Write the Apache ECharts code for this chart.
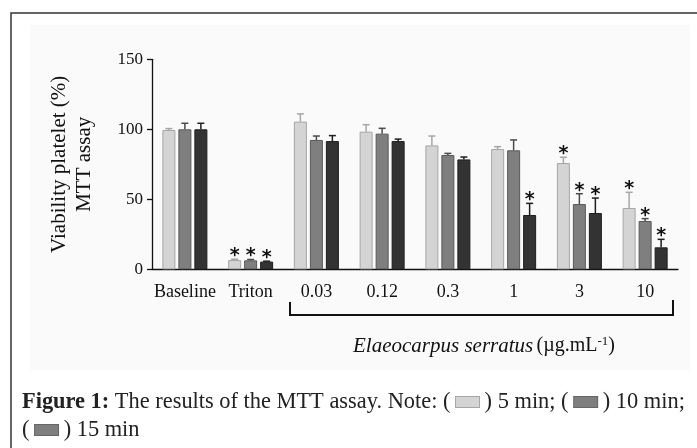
<!DOCTYPE html>
<html lang="en">
<head>
    <meta charset="UTF-8">
    <title>MTT assay</title>
    <script src="https://cdn.jsdelivr.net/npm/echarts@6/dist/echarts.min.js"></script>
    <style>
        html, body { margin: 0; padding: 0; background: #fff; }
    </style>
</head>
<body>
    <div id="main" style="width: 697px;height:448px;"></div>
    <script>
// categories and values
var categories = ['Baseline', 'Triton', '0.03', '0.12', '0.3', '1', '3', '10'];
var yTicks = [0, 50, 100, 150];

var min5 = [99.5, 6.6, 105.5, 98.3, 88.5, 85.9, 75.9, 43.8];
var min5Err = [1.0, 0.6, 5.5, 5.0, 6.7, 1.7, 4.1, 11.2];
var min5Sig = [0, 1, 0, 0, 0, 0, 1, 1];

var min10 = [100, 6.4, 92.4, 96.9, 81.6, 85.0, 46.6, 34.5];
var min10Err = [4.3, 0.6, 2.8, 3.8, 1.2, 7.4, 7.4, 1.7];
var min10Sig = [0, 1, 0, 0, 0, 0, 1, 1];

var min15 = [100, 5.5, 91.6, 91.6, 78.5, 38.8, 40.2, 15.7];
var min15Err = [4.3, 0.3, 3.9, 1.4, 1.7, 8.3, 10.7, 5.7];
var min15Sig = [0, 1, 0, 0, 0, 1, 1, 1];

var serif = '"Liberation Serif", "Times New Roman", serif';
var barW = 13, barGapPx = 3;

var groups = [
    { name: '5 min', values: min5, err: min5Err, sig: min5Sig, fill: '#d4d4d4', border: '#a6a6a6', whisker: '#a6a6a6' },
    { name: '10 min', values: min10, err: min10Err, sig: min10Sig, fill: '#7f7f7f', border: '#595959', whisker: '#4a4a4a' },
    { name: '15 min', values: min15, err: min15Err, sig: min15Sig, fill: '#333333', border: '#1e1e1e', whisker: '#1e1e1e' }
];

var myChart = echarts.init(document.getElementById('main'));

var series = [];
groups.forEach(function (g) {
    series.push({
        name: g.name,
        type: 'bar',
        barWidth: barW,
        barGap: (barGapPx / barW * 100) + '%',
        itemStyle: { color: g.fill, borderColor: g.border, borderWidth: 1 },
        data: g.values
    });
});

// error bars (upper half only) and significance stars
groups.forEach(function (g, s) {
    var shift = (s - 1) * (barW + barGapPx);
    series.push({
        type: 'custom',
        z: 5,
        encode: { x: 0, y: 1 },
        data: g.values.map(function (v, i) { return [i, v, g.err[i], g.sig[i]]; }),
        renderItem: function (params, api) {
            var base = api.coord([api.value(0), api.value(1)]);
            var top = api.coord([api.value(0), api.value(1) + api.value(2)]);
            var x = base[0] + shift;
            var kids = [
                { type: 'line', shape: { x1: x, y1: base[1], x2: x, y2: top[1] },
                  style: { stroke: g.whisker, lineWidth: 1.5 } },
                { type: 'line', shape: { x1: x - 3.5, y1: top[1], x2: x + 3.5, y2: top[1] },
                  style: { stroke: g.whisker, lineWidth: 1.5 } }
            ];
            if (api.value(3)) {
                kids.push({ type: 'text', style: {
                    text: '*', x: x, y: top[1] - 3, align: 'center', verticalAlign: 'middle',
                    font: 'bold 19px "DejaVu Sans", sans-serif', fill: '#111'
                } });
            }
            return { type: 'group', children: kids };
        }
    });
});

var capStyle = { fontFamily: serif, fontSize: 22.4, fontWeight: 'normal', color: '#222' };
var swatch = function (fill, stroke) {
    return { width: 23, height: 10, backgroundColor: fill, borderColor: stroke, borderWidth: 1 };
};

var option = {
    animation: false,
    title: [{
        text: '{b|Figure 1:} The results of the MTT assay. Note: ( {s1|} ) 5 min; ( {s2|} ) 10 min;',
        left: 22, top: 391, padding: 0,
        textStyle: Object.assign({}, capStyle, {
            rich: {
                b: Object.assign({}, capStyle, { fontWeight: 'bold' }),
                s1: swatch('#d4d4d4', '#a6a6a6'),
                s2: swatch('#7f7f7f', '#666')
            }
        })
    }, {
        text: '( {s3|} ) 15 min',
        left: 22, top: 419, padding: 0,
        textStyle: Object.assign({}, capStyle, {
            rich: { s3: swatch('#7f7f7f', '#666') }
        })
    }],
    graphic: [
        { type: 'rect', z: -10, shape: { x: 30, y: 25, width: 660, height: 345 }, style: { fill: '#fafafa' } },
        { type: 'polyline', shape: { points: [[11, 448], [11, 13], [697, 13]] },
          style: { stroke: '#333', lineWidth: 1.5, fill: null } },
        { type: 'polyline', shape: { points: [[290, 302], [290, 315], [673, 315], [673, 300]] },
          style: { stroke: '#111', lineWidth: 2, fill: null } },
        { type: 'text', x: 484, y: 346, style: {
            text: '{i|Elaeocarpus serratus} {n|(µg.mL}{sup|-1}{n|)}',
            align: 'center', verticalAlign: 'middle',
            rich: {
                i: { fontFamily: serif, fontSize: 21, fontStyle: 'italic', fill: '#111' },
                n: { fontFamily: serif, fontSize: 20, fill: '#111' },
                sup: { fontFamily: serif, fontSize: 13, fill: '#111', verticalAlign: 'top', lineHeight: 22 }
            }
        } }
    ],
    grid: { left: 152, right: 19, top: 59.3, bottom: 178.7, containLabel: false },
    xAxis: {
        type: 'category',
        data: categories,
        axisLine: { lineStyle: { color: '#111', width: 1.3 } },
        axisTick: { alignWithLabel: true, length: 5, lineStyle: { color: '#111', width: 1.3 } },
        axisLabel: { interval: 0, margin: 14, color: '#111', fontFamily: serif, fontSize: 18 }
    },
    yAxis: {
        type: 'value',
        min: yTicks[0], max: yTicks[yTicks.length - 1], interval: 50,
        name: 'Viability platelet (%)\nMTT assay',
        nameLocation: 'middle',
        nameGap: 55,
        nameTextStyle: { fontFamily: serif, fontSize: 21, color: '#111', lineHeight: 25 },
        splitLine: { show: false },
        axisLine: { show: true, lineStyle: { color: '#111', width: 1.3 } },
        axisTick: { show: true, length: 5, lineStyle: { color: '#111', width: 1.3 } },
        axisLabel: { margin: 9, color: '#111', fontFamily: serif, fontSize: 17 }
    },
    series: series
};
myChart.setOption(option);
    </script>
</body>
</html>
